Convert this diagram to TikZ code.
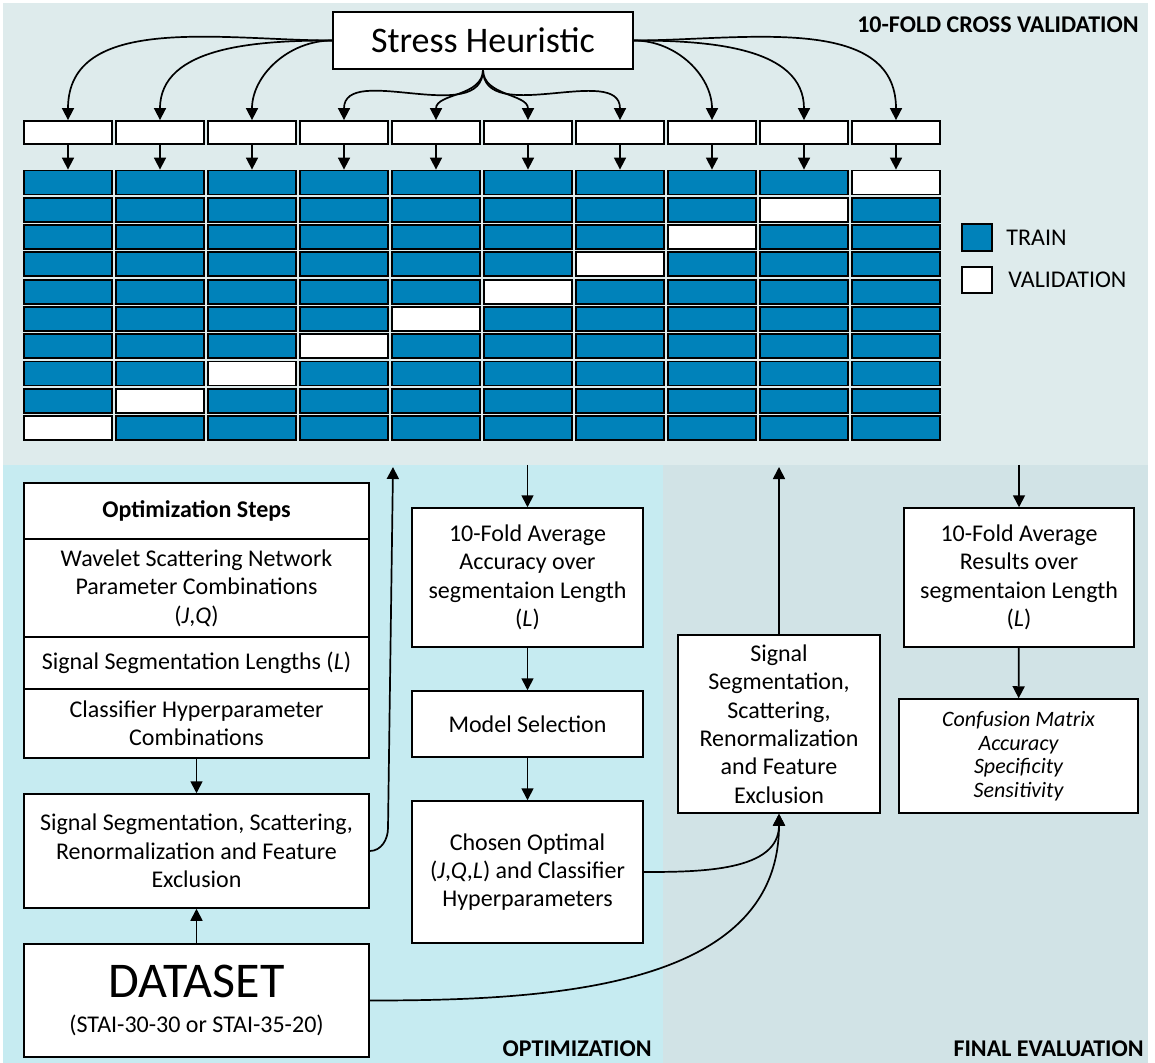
\documentclass[tikz,border=0pt]{standalone}
\usepackage{fontspec}
\setmainfont{Carlito}
\usetikzlibrary{arrows.meta}
\definecolor{crossbg}{RGB}{222,235,236}
\definecolor{optbg}{RGB}{198,235,241}
\definecolor{evalbg}{RGB}{209,227,230}
\definecolor{trainblue}{RGB}{0,130,186}

\begin{document}
\begin{tikzpicture}[x=0.5pt,y=-0.5pt,>={Triangle[length=6pt,width=6pt]}]

\def\u{0.5pt}
\tikzstyle{box} = [draw, fill=white, line width=0.75pt, align=center, inner sep=1pt,
	font=\fontsize{12}{14.2}\selectfont];
\tikzstyle{fold} = [draw, fill=white, line width=0.9pt, inner sep=0pt,
	minimum width=88*\u, minimum height=23*\u];
\tikzstyle{cell} = [fold, fill=trainblue, minimum height=24*\u];
\tikzstyle{arr} = [->, line width=0.85pt];
\tikzstyle{tag} = [font=\fontsize{12}{14}\selectfont\bfseries, anchor=east, inner sep=0pt];
\tikzstyle{legendtext} = [font=\fontsize{12}{14}\selectfont, anchor=west, inner sep=0pt];

\useasboundingbox (0,0) rectangle (1155,1063);
\fill[white] (0,0) rectangle (1155,1063);
\fill[crossbg] (3,3) rectangle (1148,465);
\fill[optbg] (3,465) rectangle (663,1063);
\fill[evalbg] (663,465) rectangle (1148,1063);

\node[tag] (cvtag) at (1139,25) {10-FOLD CROSS VALIDATION};
\node[tag] (opttag) at (652,1049) {OPTIMIZATION};
\node[tag] (evaltag) at (1144,1049) {FINAL EVALUATION};

\node[box, minimum width=300*\u, minimum height=57*\u,
	font=\fontsize{18}{20}\selectfont] (stress) at (483,40.5) {Stress Heuristic};

\foreach \c in {1,...,10}{
	\node[fold] (h\c) at ({68+92*(\c-1)},132.5) {};
	\foreach \r in {1,...,10}{
		\pgfmathtruncatemacro{\v}{11-\c}
		\ifnum\r=\v \def\cfill{white}\else\def\cfill{trainblue}\fi
		\node[cell, fill=\cfill] (c\c-\r) at ({68+92*(\c-1)},{182.5+27.3*(\r-1)}) {};
	}
	\draw[arr] (h\c.south) -- (c\c-1.north);
}

\node[cell, minimum width=30*\u, minimum height=27*\u] (ltrain) at (977,237.5) {};
\node[legendtext] (ttrain) at (1006,238) {TRAIN};
\node[cell, fill=white, minimum width=30*\u, minimum height=26*\u] (lval) at (977,280) {};
\node[legendtext] (tval) at (1008,280) {VALIDATION};

\draw[arr] (stress.west) to[out=180,in=90] (h1.north);
\draw[arr] (stress.west) to[out=180,in=90] (h2.north);
\draw[arr] (stress.west) to[out=180,in=90] (h3.north);
\draw[arr] (stress.south) to[out=-90,in=90] (h4.north);
\draw[arr] (stress.south) to[out=-90,in=90] (h5.north);
\draw[arr] (stress.south) to[out=-90,in=90] (h6.north);
\draw[arr] (stress.south) to[out=-90,in=90] (h7.north);
\draw[arr] (stress.east) to[out=0,in=90] (h8.north);
\draw[arr] (stress.east) to[out=0,in=90] (h9.north);
\draw[arr] (stress.east) to[out=0,in=90] (h10.north);

\node[box, minimum width=345*\u, minimum height=56*\u,
	font=\fontsize{12}{14.2}\selectfont\bfseries] (ohead) at (196.5,511) {Optimization Steps};
\node[box, minimum width=345*\u, minimum height=98*\u] (owav) at (196.5,588)
	{Wavelet Scattering Network\\Parameter Combinations\\(\textit{J},\textit{Q})};
\node[box, minimum width=345*\u, minimum height=52*\u] (olen) at (196.5,663)
	{Signal Segmentation Lengths (\textit{L})};
\node[box, minimum width=345*\u, minimum height=69*\u] (ocls) at (196.5,723.5)
	{Classifier Hyperparameter\\Combinations};

\node[box, minimum width=345*\u, minimum height=114*\u] (segl) at (196.5,851)
	{Signal Segmentation, Scattering,\\Renormalization and Feature\\Exclusion};
\node[box, minimum width=345*\u, minimum height=113*\u] (data) at (196.5,1000.5)
	{{\fontsize{25}{26}\selectfont DATASET}\\[3pt](STAI-30-30 or STAI-35-20)};

\node[box, minimum width=231*\u, minimum height=139*\u] (avgacc) at (527.5,577.5)
	{10-Fold Average\\Accuracy over\\segmentaion Length\\(\textit{L})};
\node[box, minimum width=231*\u, minimum height=66*\u] (model) at (527.5,724) {Model Selection};
\node[box, minimum width=231*\u, minimum height=142*\u] (chosen) at (527.5,872)
	{Chosen Optimal\\(\textit{J},\textit{Q},\textit{L}) and Classifier\\Hyperparameters};

\node[box, minimum width=202*\u, minimum height=178*\u] (segr) at (779,724)
	{Signal\\Segmentation,\\Scattering,\\Renormalization\\and Feature\\Exclusion};

\node[box, minimum width=230*\u, minimum height=139*\u] (avgres) at (1019,577.5)
	{10-Fold Average\\Results over\\segmentaion Length\\(\textit{L})};
\node[box, minimum width=239*\u, minimum height=114*\u,
	font=\fontsize{11}{11.8}\selectfont\itshape] (metric) at (1018.5,756)
	{Confusion Matrix\\Accuracy\\Specificity\\Sensitivity};

\coordinate (toavg) at (527.5,465);
\coordinate (tores) at (1019,465);
\coordinate (upl) at (393,467);
\coordinate (bendl) at (388,828);
\coordinate (upr) at (779,467);

\draw[arr] (ocls) -- (segl);
\draw[arr] (data) -- (segl);
\draw[arr] (segl.east) to[out=0,in=-90] (bendl) -- (upl);
\draw[arr] (toavg) -- (avgacc);
\draw[arr] (avgacc) -- (model);
\draw[arr] (model) -- (chosen);
\draw[arr] (chosen.east) to[out=0,in=-90] (segr.south);
\draw[arr] (data.east) to[out=0,in=-90] (segr.south);
\draw[arr] (segr) -- (upr);
\draw[arr] (tores) -- (avgres);
\draw[arr] (avgres) -- (metric);

\end{tikzpicture}
\end{document}
